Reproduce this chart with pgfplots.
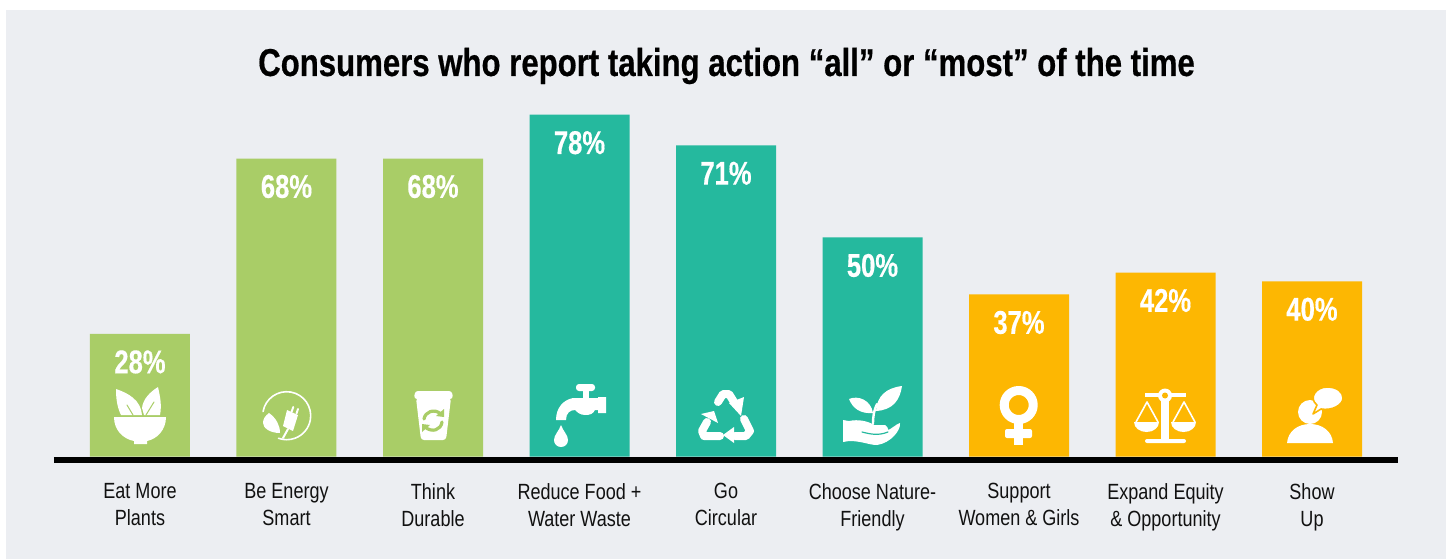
\documentclass[border=0pt]{standalone}
\usepackage{fontspec}
\setmainfont[FakeStretch=0.82]{Liberation Sans}
\newfontfamily\condbold[FakeStretch=0.78,FakeBold=0.4]{Liberation Sans Bold}
\newfontfamily\titlebold[FakeStretch=0.803,FakeBold=0.5]{Liberation Sans Bold}
\usepackage{pgfplots}
\usepackage{pgfplotstable}
\pgfplotsset{compat=1.18}

\definecolor{panel}{HTML}{ECEEF2}
\definecolor{leaf}{HTML}{A9CD67}
\definecolor{teal}{HTML}{25B99E}
\definecolor{amber}{HTML}{FDB702}
\definecolor{ink}{HTML}{111111}

% one table per colour group
\pgfplotstableread{
x y
0 28
1 68
2 68
}\greenbars
\pgfplotstableread{
x y
3 78
4 71
5 50
}\tealbars
\pgfplotstableread{
x y
6 37
7 42
8 40
}\amberbars

\begin{document}
\begin{tikzpicture}
% page is 1449x559 px at 0.5pt per px
\path[use as bounding box] (0,0) rectangle (724.5pt,279.5pt);
\fill[panel] (3pt,0) rectangle (723pt,274.75pt);
\begin{axis}[
    at={(27pt,49.65pt)}, anchor=south west,
    scale only axis,
    width=672pt, height=176.9pt,
    xmin=-0.587, xmax=8.587,
    ymin=-0.685, ymax=80,
    ybar, bar width=50pt, bar shift=0pt,
    axis x line=bottom, axis y line=none,
    axis line style={line width=3pt, -, black},
    xtick={0,...,8},
    xticklabels={{Eat More\\Plants},{Be Energy\\Smart},{Think\\Durable},
      {Reduce Food +\\Water Waste},{Go\\Circular},{Choose Nature-\\Friendly},
      {Support\\Women \& Girls},{Expand Equity\\\& Opportunity},{Show\\Up}},
    xticklabel style={align=center, font=\fontsize{11}{13.5}\selectfont, text=ink, yshift=-8.2pt},
    major tick length=0pt,
    /pgf/number format/assume math mode=true,
    nodes near coords={\pgfmathprintnumber{\pgfplotspointmeta}\%},
    every node near coord/.style={anchor=north, inner sep=0pt, yshift=-8pt, text=white,
      font=\fontsize{16.4}{18}\selectfont\condbold},
    clip=false,
]
\addplot[fill=leaf, draw=none] table[x=x,y=y] {\greenbars};
\addplot[fill=teal, draw=none] table[x=x,y=y] {\tealbars};
\addplot[fill=amber, draw=none] table[x=x,y=y] {\amberbars};
\end{axis}
\node[font=\fontsize{19.4}{22}\selectfont\titlebold, text=black] at (363.25pt,246.5pt)
  {Consumers who report taking action “all” or “most” of the time};

% icons, in page pixels
\begin{scope}[x=0.5pt, y=-0.5pt, yshift=279.5pt, line cap=round, line join=round]
% bowl with leaves
\fill[white] (114,417) -- (166,417) .. controls (166,430) and (157,439) .. (147,441) -- (147,444) -- (134,444) -- (134,441) .. controls (123,439) and (114,430) .. (114,417) -- cycle;
\fill[white] (116,389) .. controls (128,393) and (141,400) .. (142,415) -- (121,415) .. controls (117,407) and (116,398) .. (116,389) -- cycle;
\fill[white] (158,387) .. controls (150,392) and (143,399) .. (142,408) -- (144,415) -- (160,415) .. controls (162,405) and (160,396) .. (158,387) -- cycle;
\draw[leaf, line width=0.5pt] (127,405) -- (133,415) (154,402) -- (146,415);
% plug in a ring
\draw[white, line width=0.8pt] (286.7,415.7) ++(-170:24) arc[start angle=-170, end angle=110, radius=24];
\fill[white] (269,413) .. controls (276,418) and (280,425) .. (280,433) .. controls (270,433) and (263,428) .. (263,423) .. controls (263,419) and (265,416) .. (269,413) -- cycle;
\fill[white] (287,410) -- (298,415) -- (293,431) -- (283,426) -- cycle;
\draw[white, line width=1pt] (293.3,407) -- (291.5,412) (298,409) -- (296.5,413.5) (288,429) -- (283,438);
% cup
\fill[white, rounded corners=1.5pt] (414,399) -- (415,391) -- (452,391) -- (453,399) -- cycle;
\fill[white, rounded corners=1.5pt] (416,398) -- (451,398) -- (446,440) -- (421,440) -- cycle;
\draw[leaf, line width=1.6pt] (424,419) .. controls (425,412) and (434,408) .. (441,414);
\draw[leaf, line width=1.6pt] (442,422) .. controls (441,430) and (432,433) .. (425,427);
\fill[leaf] (444,409) -- (444,417) -- (436,416) -- cycle (422,432) -- (422,424) -- (430,425) -- cycle;
% faucet and drop
\fill[white, rounded corners=1.5pt] (576,384) rectangle (595,391);
\fill[white] (583,390) rectangle (589,398);
\fill[white] (556,420) .. controls (556,408) and (563,400) .. (573,398) -- (598,398) -- (598,397) -- (606,397) -- (606,413) -- (598,413) -- (598,410) -- (595,410) .. controls (593,414) and (590,415) .. (585,415) .. controls (580,415) and (577,412) .. (575,410) .. controls (570,410) and (566,413) .. (566,420) -- cycle;
\fill[white] (561,425) .. controls (563,431) and (568,435) .. (568,440) .. controls (568,444) and (565,447) .. (561,447) .. controls (557,447) and (554,444) .. (554,440) .. controls (554,435) and (559,431) .. (561,425) -- cycle;
% recycling arrows
\draw[white, line width=4pt] (718,402) -- (723,394) -- (729,394) -- (734,402);
\fill[white] (729,403) -- (744,397) -- (741,416) -- cycle;
\draw[white, line width=4pt] (744,419) -- (750,431) -- (746,436) -- (735,436);
\fill[white] (734,427) -- (723,435) -- (734,443) -- cycle;
\draw[white, line width=4pt] (720,436) -- (704,436) -- (702,431) -- (707,422);
\fill[white] (701,414) -- (714,411) -- (718,423) -- cycle;
% hand with seedling
\draw[white, line width=1.2pt] (873,424) .. controls (873,416) and (874,410) .. (877,404);
\fill[white] (902,386) .. controls (886,388) and (877,396) .. (876,411) .. controls (893,410) and (900,400) .. (902,386) -- cycle;
\fill[white] (849,399) .. controls (858,395) and (871,400) .. (873,413) .. controls (861,414) and (853,409) .. (849,399) -- cycle;
\fill[white] (843,420) -- (849,421) .. controls (858,419) and (868,421) .. (874,425) -- (885,425) .. controls (889,428) and (889,431) .. (886,431) .. controls (892,429) and (896,424) .. (900,423) .. controls (901,430) and (891,443) .. (877,445) .. controls (869,445) and (862,441) .. (849,441) -- (843,442) -- cycle;
\draw[teal, line width=0.6pt] (862,432) .. controls (870,434) and (878,436) .. (888,432);
% venus
\draw[white, line width=4.5pt] (1018.7,405) circle[radius=14.5];
\fill[white] (1014,420) rectangle (1023,445);
\fill[white, rounded corners=1pt] (1005,429) rectangle (1032,438);
% scales
\fill[white] (1161,398) rectangle (1169,440);
\fill[white, rounded corners=1pt] (1145,439) rectangle (1186,443);
\fill[white] (1145,393) rectangle (1186,397);
\fill[white] (1165,395.5) circle[radius=7];
\fill[amber] (1165,395.5) circle[radius=3];
\draw[white, line width=0.8pt] (1136,422) -- (1147,402) -- (1158,422) (1173,422) -- (1184,402) -- (1195,422);
\fill[white] (1134,422) -- (1159,422) .. controls (1159,428) and (1153,432) .. (1146.5,432) .. controls (1140,432) and (1134,428) .. (1134,422) -- cycle;
\fill[white] (1171,422) -- (1196,422) .. controls (1196,428) and (1190,432) .. (1183.5,432) .. controls (1177,432) and (1171,428) .. (1171,422) -- cycle;
% speaker with bubble
\fill[white] (1287,443) .. controls (1288,431) and (1298,424) .. (1310,424) .. controls (1322,424) and (1332,431) .. (1333,443) -- cycle;
\fill[white] (1310,412) circle[radius=12];
\filldraw[fill=white, draw=amber, line width=0.8pt] (1313,414) -- (1317,405) .. controls (1308,398) and (1316,387) .. (1327,387) .. controls (1337,387) and (1343,392) .. (1343,398) .. controls (1343,405) and (1332,411) .. (1321,409) -- cycle;
\end{scope}
\end{tikzpicture}
\end{document}
